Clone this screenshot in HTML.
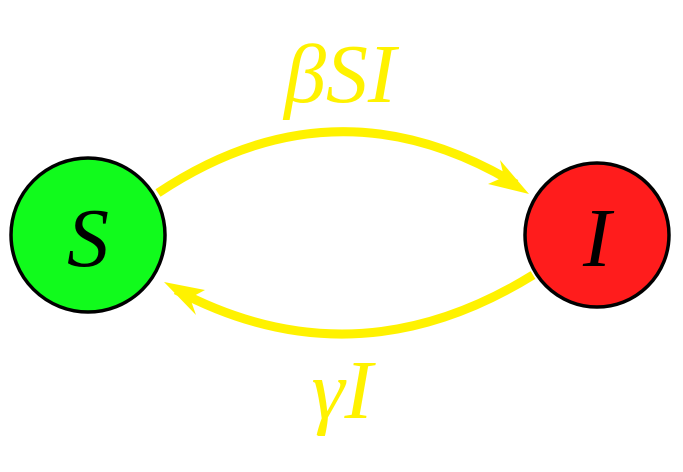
<!DOCTYPE html>
<html>
<head>
<meta charset="utf-8">
<style>
  html,body{margin:0;padding:0;background:#fff;}
  svg{display:block;}
  text{font-family:"Liberation Serif","DejaVu Serif",serif;font-style:italic;}
</style>
</head>
<body>
<svg width="683" height="472" viewBox="0 0 683 472" xmlns="http://www.w3.org/2000/svg">
  <g>
    <path d="M158,193 Q335,75 516,184" fill="none" stroke="#fff200" stroke-width="9"/>
    <path d="M529,194 L488,184 L504,177 L500,160 Z" fill="#fff200"/>
  </g>
  <g>
    <path d="M533,275 Q355,385 176,290" fill="none" stroke="#fff200" stroke-width="9"/>
    <path d="M164,282 L205,290 L190,298 L196,315 Z" fill="#fff200"/>
  </g>
  <g>
    <circle cx="88" cy="235" r="77" fill="#11fb1c" stroke="#000" stroke-width="3.5"/>
    <text x="88" y="266" font-size="84" text-anchor="middle" fill="#000">S</text>
  </g>
  <g>
    <circle cx="597" cy="235" r="72" fill="#ff1c1c" stroke="#000" stroke-width="3.5"/>
    <text x="597" y="266" font-size="84" text-anchor="middle" fill="#000">I</text>
  </g>
  <text x="340" y="102" font-size="84" text-anchor="middle" fill="#fff200">βSI</text>
  <text x="342" y="418" font-size="84" text-anchor="middle" fill="#fff200">γI</text>
</svg>
</body>
</html>
